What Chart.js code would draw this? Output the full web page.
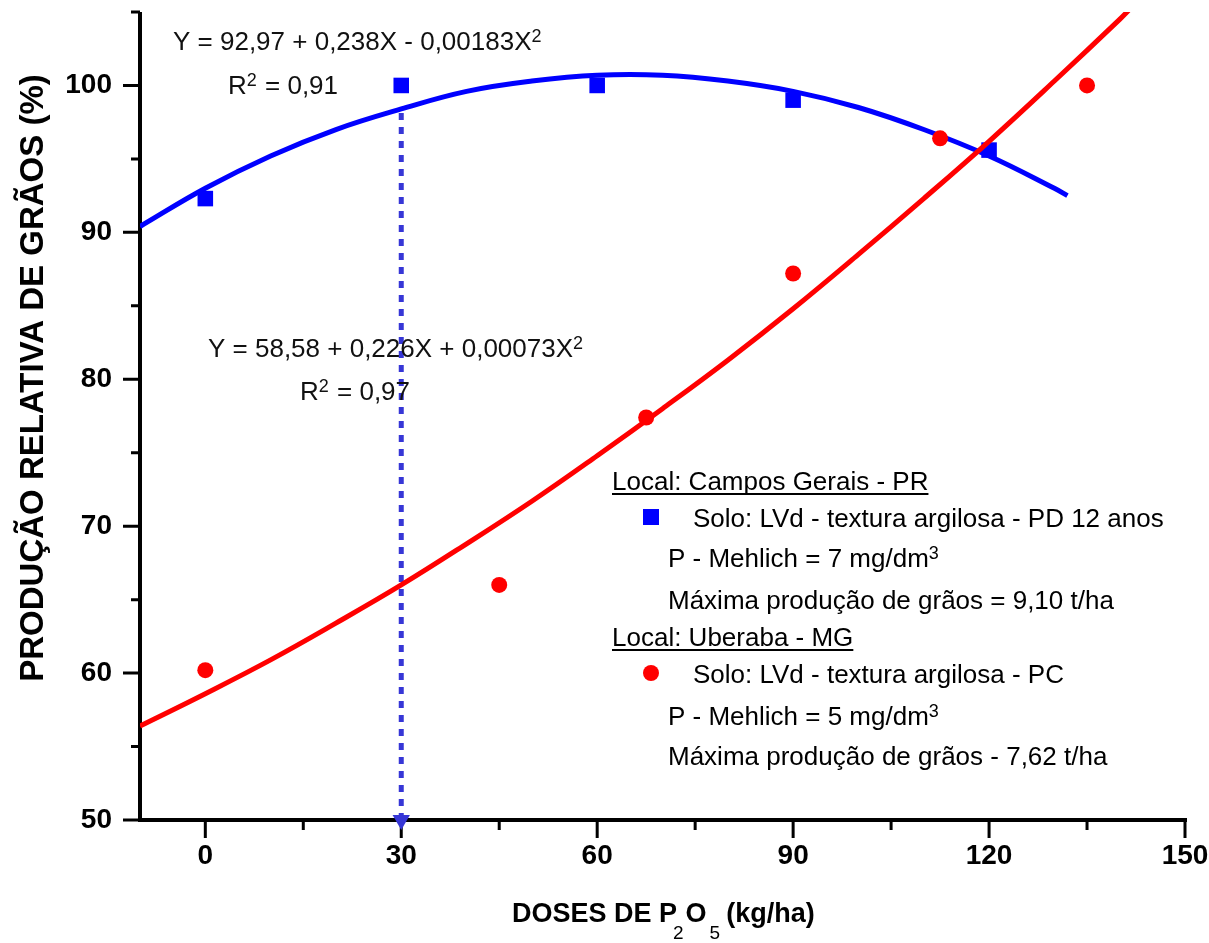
<!DOCTYPE html>
<html>
<head>
<meta charset="utf-8">
<script src="https://cdn.jsdelivr.net/npm/chart.js@4.4.1/dist/chart.umd.min.js"></script>
<style>
  html, body { margin: 0; padding: 0; background: #fff; }
  canvas { display: block; }
</style>
</head>
<body>
<canvas id="myChart" width="1209" height="943"></canvas>
<script>
// observed points
const dosesCampos = [0, 30, 60, 90, 120];
const campos = [92.3, 100.0, 100.0, 99.0, 95.6];
const dosesUberaba = [0, 45, 67.5, 90, 112.5, 135];
const uberaba = [60.2, 66.0, 77.4, 87.2, 96.4, 100.0];

// fitted curves
const fitDosesCampos = [-10, 0, 10, 20, 30, 40, 50, 60, 70, 80, 90, 100, 110, 120, 130, 132];
const fitCampos = [90.4, 93.0, 95.2, 97.0, 98.4, 99.6, 100.3, 100.7, 100.7, 100.3, 99.6, 98.5, 97.0, 95.2, 93.0, 92.5];
const fitDosesUberaba = [-10, 0, 10, 20, 30, 40, 50, 60, 70, 80, 90, 100, 110, 120, 130, 140, 142];
const fitUberaba = [56.4, 58.6, 60.9, 63.4, 66.0, 68.8, 71.7, 74.8, 78.0, 81.3, 84.8, 88.5, 92.3, 96.2, 100.3, 104.5, 105.4];

// dotted reference line at 30 kg/ha
const refDose = [30, 30];
const refValue = [50, 98.4];

const xTicks = [0, 30, 60, 90, 120, 150];
const yTicks = [50, 60, 70, 80, 90, 100];

const BLUE = "#0000ff";
const RED = "#ff0000";
const DOTS = "#3636d6";
const FONT = "'Liberation Sans', Arial, sans-serif";

const pts = (xs, ys) => xs.map((x, i) => ({ x: x, y: ys[i] }));

// text pieces, a piece marked true is a superscript
function rich(ctx, parts, x, y) {
  let cx = x;
  parts.forEach(([txt, sup]) => {
    ctx.font = (sup ? "18px " : "26px ") + FONT;
    ctx.fillText(txt, cx, sup ? y - 8 : y);
    cx += ctx.measureText(txt).width + (sup ? 1 : 0);
  });
  return cx - x;
}

// axes and tick marks, under the data
const axes = {
  id: "axes",
  beforeDatasetsDraw(chart) {
    const ctx = chart.ctx;
    const xs = chart.scales.x;
    const ys = chart.scales.y;
    const a = chart.chartArea;
    ctx.save();
    ctx.strokeStyle = "#000";
    ctx.lineWidth = 4;
    ctx.beginPath();
    ctx.moveTo(a.left, a.top);
    ctx.lineTo(a.left, a.bottom + 2);
    ctx.moveTo(a.left, a.bottom);
    ctx.lineTo(a.right + 2, a.bottom);
    ctx.stroke();

    ctx.lineWidth = 3;
    ctx.beginPath();
    ys.ticks.forEach(t => {
      const y = ys.getPixelForValue(t.value);
      const len = t.value % 10 === 0 ? 17 : 9;
      ctx.moveTo(a.left - len, y);
      ctx.lineTo(a.left, y);
    });
    xs.ticks.forEach(t => {
      if (t.value % 15 !== 0) return;
      const x = xs.getPixelForValue(t.value);
      const len = t.value % 30 === 0 ? 18 : 10;
      ctx.moveTo(x, a.bottom);
      ctx.lineTo(x, a.bottom + len);
    });
    ctx.stroke();
    ctx.restore();
  }
};

// titles, equations and the legend block
const texts = {
  id: "texts",
  afterDraw(chart) {
    const ctx = chart.ctx;
    ctx.save();
    ctx.fillStyle = "#000";

    ctx.save();
    ctx.translate(34, 378);
    ctx.rotate(-Math.PI / 2);
    ctx.font = "bold 33px " + FONT;
    ctx.textAlign = "center";
    ctx.textBaseline = "middle";
    ctx.fillText("PRODUÇÃO RELATIVA DE GRÃOS (%)", 0, 0);
    ctx.restore();

    ctx.textAlign = "left";
    ctx.textBaseline = "alphabetic";
    const big = "bold 27px " + FONT;
    const small = "19px " + FONT;
    let cx = 512;
    const base = 922;
    const part = (txt, font, dy, gap) => {
      ctx.font = font;
      ctx.fillText(txt, cx, base + dy);
      cx += ctx.measureText(txt).width + gap;
    };
    part("DOSES DE P", big, 0, -4);
    part("2", small, 17, 2);
    part("O", big, 0, 3);
    part("5", small, 17, 6);
    part("(kg/ha)", big, 0, 0);

    ctx.fillStyle = "#111";
    rich(ctx, [["Y = 92,97 + 0,238X - 0,00183X", false], ["2", true]], 173, 50);
    rich(ctx, [["R", false], ["2", true], [" = 0,91", false]], 228, 94);
    rich(ctx, [["Y = 58,58 + 0,226X + 0,00073X", false], ["2", true]], 208, 357);
    rich(ctx, [["R", false], ["2", true], [" = 0,97", false]], 300, 400);

    ctx.fillStyle = "#000";
    const lines = [
      [[["Local: Campos Gerais - PR", false]], 612, 490, true],
      [[["Solo: LVd - textura argilosa - PD 12 anos", false]], 693, 527, false],
      [[["P - Mehlich = 7 mg/dm", false], ["3", true]], 668, 567, false],
      [[["Máxima produção de grãos = 9,10 t/ha", false]], 668, 609, false],
      [[["Local: Uberaba - MG", false]], 612, 646, true],
      [[["Solo: LVd - textura argilosa - PC", false]], 693, 683, false],
      [[["P - Mehlich = 5 mg/dm", false], ["3", true]], 668, 725, false],
      [[["Máxima produção de grãos - 7,62 t/ha", false]], 668, 765, false]
    ];
    lines.forEach(([parts, x, y, under]) => {
      const w = rich(ctx, parts, x, y);
      if (under) ctx.fillRect(x, y + 3, w, 2);
    });
    ctx.fillStyle = BLUE;
    ctx.fillRect(643, 509, 16, 16);
    ctx.fillStyle = RED;
    ctx.beginPath();
    ctx.arc(651, 673, 8, 0, Math.PI * 2);
    ctx.fill();
    ctx.restore();
  }
};

new Chart(document.getElementById("myChart").getContext("2d"), {
  type: "scatter",
  data: {
    datasets: [
      {
        data: pts(refDose, refValue),
        showLine: true,
        borderColor: DOTS,
        borderWidth: 5,
        borderDash: [7, 7],
        pointStyle: "triangle",
        rotation: 180,
        pointRadius: [10, 0],
        pointBackgroundColor: DOTS,
        pointBorderWidth: 0,
        clip: false,
        order: 5
      },
      {
        data: pts(fitDosesCampos, fitCampos),
        showLine: true,
        borderColor: BLUE,
        borderWidth: 5,
        tension: 0.4,
        pointRadius: 0,
        clip: 0,
        order: 3
      },
      {
        data: pts(fitDosesUberaba, fitUberaba),
        showLine: true,
        borderColor: RED,
        borderWidth: 5,
        tension: 0.4,
        pointRadius: 0,
        clip: 0,
        order: 2
      },
      {
        data: pts(dosesCampos, campos),
        pointStyle: "rect",
        pointRadius: 11,
        pointBackgroundColor: BLUE,
        pointBorderWidth: 0,
        order: 4
      },
      {
        data: pts(dosesUberaba, uberaba),
        pointStyle: "circle",
        pointRadius: 8,
        pointBackgroundColor: RED,
        pointBorderWidth: 0,
        order: 1
      }
    ]
  },
  options: {
    responsive: false,
    animation: false,
    layout: { padding: { top: 12, right: 24, left: 0, bottom: 0 } },
    plugins: { legend: { display: false }, tooltip: { enabled: false } },
    scales: {
      x: {
        type: "linear",
        min: -10,
        max: 150,
        afterFit: s => { s.height = 123; s.paddingLeft = 0; s.paddingRight = 0; },
        afterBuildTicks: s => {
          s.ticks = [-10, 0, 15, 30, 45, 60, 75, 90, 105, 120, 135, 150].map(v => ({ value: v }));
        },
        grid: { display: false, drawTicks: false },
        border: { display: false },
        ticks: {
          autoSkip: false,
          maxRotation: 0,
          padding: 19,
          color: "#000",
          font: { family: FONT, size: 28, weight: "bold" },
          callback: v => (xTicks.includes(v) ? v : "")
        }
      },
      y: {
        type: "linear",
        min: 50,
        max: 105,
        afterFit: s => { s.width = 140; s.paddingTop = 0; s.paddingBottom = 0; },
        afterBuildTicks: s => {
          s.ticks = [50, 55, 60, 65, 70, 75, 80, 85, 90, 95, 100, 105].map(v => ({ value: v }));
        },
        grid: { display: false, drawTicks: false },
        border: { display: false },
        ticks: {
          autoSkip: false,
          padding: 28,
          color: "#000",
          font: { family: FONT, size: 28, weight: "bold" },
          callback: v => (yTicks.includes(v) ? v : "")
        }
      }
    }
  },
  plugins: [axes, texts]
});
</script>
</body>
</html>
